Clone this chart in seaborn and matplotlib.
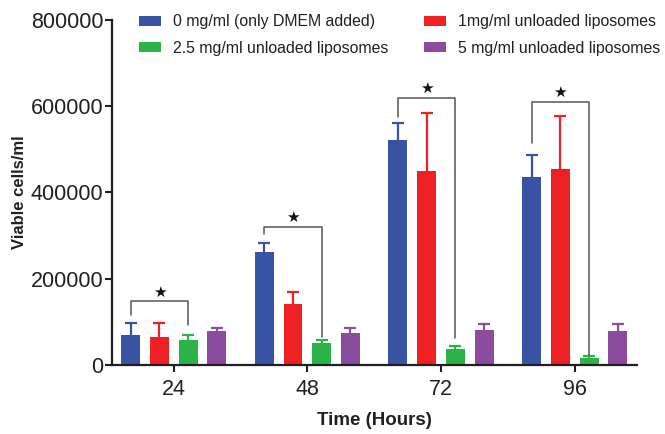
import matplotlib
matplotlib.use("Agg")
import matplotlib.pyplot as plt
import seaborn as sns
import pandas as pd
import numpy as np

# ---- data ----
times = ["24", "48", "72", "96"]
groups = ["0 mg/ml (only DMEM added)", "1mg/ml unloaded liposomes",
          "2.5 mg/ml unloaded liposomes", "5 mg/ml unloaded liposomes"]
mean_0mg = [70000, 261000, 522000, 436000]
mean_1mg = [64000, 141000, 449000, 455000]
mean_2_5mg = [58000, 52000, 37000, 17000]
mean_5mg = [78000, 75000, 80500, 79000]
sd_0mg = [27000, 23000, 39000, 52000]
sd_1mg = [34000, 29000, 136000, 123000]
sd_2_5mg = [12000, 7000, 7000, 4600]
sd_5mg = [7000, 11500, 15500, 16000]
# significance brackets (0 mg/ml vs 2.5 mg/ml)
bracket_top = [148000, 320000, 620000, 610000]
bracket_left_end = [116000, 303000, 575000, 515000]
bracket_right_end = [93000, 65000, 63000, 23000]

colors = ["#3953A4", "#ED2024", "#2BB34A", "#8B4C9E"]
txt = "#231F20"

means = [mean_0mg, mean_1mg, mean_2_5mg, mean_5mg]
sds = [sd_0mg, sd_1mg, sd_2_5mg, sd_5mg]
df = pd.DataFrame({
    "Time": [t for g in groups for t in times],
    "Group": [g for g in groups for _ in times],
    "Value": [v for m in means for v in m],
})

sns.set_style("ticks")
plt.rcParams["font.family"] = ["Liberation Sans", "DejaVu Sans"]

fig = plt.figure(figsize=(6.65, 4.34), dpi=100)
ax = fig.add_axes([0.168, 0.159, 0.79, 0.795])

sns.barplot(data=df, x="Time", y="Value", hue="Group", order=times,
            hue_order=groups, palette=colors, errorbar=None,
            width=0.86, gap=0.34, saturation=1, linewidth=0, ax=ax)

# one-sided error bars
for cont, sd, col in zip(ax.containers, sds, colors):
    xs = [p.get_x() + p.get_width() / 2 for p in cont.patches]
    ys = [p.get_height() for p in cont.patches]
    eb = ax.errorbar(xs, ys, yerr=[np.zeros(len(sd)), sd], fmt="none",
                     ecolor=col, elinewidth=1.6, capsize=4.2, capthick=1.6, zorder=3)
    caps = eb.lines[1]
    if len(caps) == 2:
        caps[0].set_visible(False)

# significance brackets
c0 = ax.containers[0].patches
c2 = ax.containers[2].patches
for i in range(len(times)):
    xl = c0[i].get_x() + c0[i].get_width() / 2
    xr = c2[i].get_x() + c2[i].get_width() / 2
    ax.plot([xl, xl, xr, xr],
            [bracket_left_end[i], bracket_top[i], bracket_top[i], bracket_right_end[i]],
            color="#555555", lw=1.1, zorder=4)
    ax.text((xl + xr) / 2, bracket_top[i] + 21000, "\u2605", ha="center",
            va="center", fontsize=11, color="#111111", family="DejaVu Sans")

ax.set_ylim(0, 800000)
ax.set_xlim(-0.464, 3.467)
ax.set_yticks([0, 200000, 400000, 600000, 800000])
ax.set_yticklabels(["0", "200000", "400000", "600000", "800000"])
ax.tick_params(axis="both", labelsize=15.5, colors=txt, width=1.5, length=5)
ax.tick_params(axis="y", pad=1)
ax.tick_params(axis="x", pad=5)
for s in ["left", "bottom"]:
    ax.spines[s].set_linewidth(1.6)
    ax.spines[s].set_color(txt)
sns.despine(ax=ax)

ax.set_xlabel("Time (Hours)", fontsize=13.5, fontweight="bold", color=txt, labelpad=9)
ax.set_ylabel("Viable cells/ml", fontsize=12, fontweight="bold", color=txt, labelpad=3)

handles, labels = ax.get_legend_handles_labels()
order = [0, 2, 1, 3]
leg = ax.legend([handles[k] for k in order], [labels[k] for k in order],
                ncol=2, frameon=False, loc="upper left",
                bbox_to_anchor=(0.188, 1.0), bbox_transform=fig.transFigure,
                fontsize=11.4, handlelength=1.4, handleheight=0.6,
                handletextpad=0.75, columnspacing=2.2, labelspacing=0.72)
for t in leg.get_texts():
    t.set_color(txt)

fig.savefig("out.png", dpi=100)
